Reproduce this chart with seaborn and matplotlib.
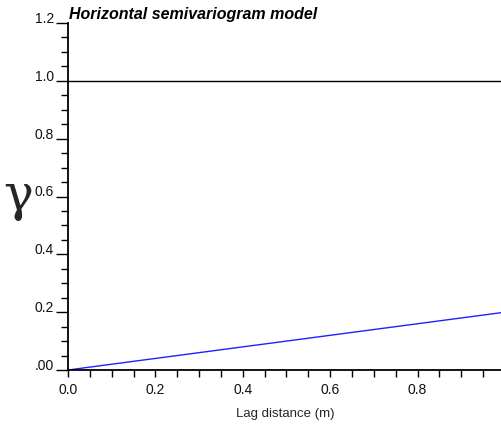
import matplotlib
matplotlib.use("Agg")
import matplotlib.pyplot as plt
import seaborn as sns
import numpy as np
import pandas as pd
from matplotlib.ticker import MultipleLocator, FixedLocator

lag = [0.0, 1.0]
gamma = [0.0, 0.2]
sill_lag = [0.0, 1.0]
sill = [1.0, 1.0]
ytick_vals = [0.0, 0.2, 0.4, 0.6, 0.8, 1.0, 1.2]
ytick_labels = [".00", "0.2", "0.4", "0.6", "0.8", "1.0", "1.2"]
xtick_vals = [0.0, 0.2, 0.4, 0.6, 0.8]
xtick_labels = ["0.0", "0.2", "0.4", "0.6", "0.8"]

sns.set_style("white")
plt.rcParams['font.family'] = ['Liberation Sans', 'DejaVu Sans']

fig = plt.figure(figsize=(5.02, 4.24), dpi=100)
ax = fig.add_axes([68/502, 1-370/424, 1-68/502, (370-23)/424])

model = pd.DataFrame({"lag": lag, "gamma": gamma})
sills = pd.DataFrame({"lag": sill_lag, "gamma": sill})
sns.lineplot(data=sills, x="lag", y="gamma", ax=ax, color="black", linewidth=1.0)
sns.lineplot(data=model, x="lag", y="gamma", ax=ax, color="#2020ff", linewidth=1.0)

ax.set_xlim(0, (502-68)/437)
ax.set_ylim(0, 1.2)
for s in ["top", "right"]:
    ax.spines[s].set_visible(False)
for s in ["left", "bottom"]:
    ax.spines[s].set_color("black")
    ax.spines[s].set_linewidth(1.3)

ax.xaxis.set_major_locator(FixedLocator(xtick_vals))
ax.set_xticklabels(xtick_labels)
ax.yaxis.set_major_locator(FixedLocator(ytick_vals))
ax.set_yticklabels(ytick_labels)
ax.xaxis.set_minor_locator(MultipleLocator(0.05))
ax.yaxis.set_minor_locator(MultipleLocator(0.05))
ax.tick_params(axis="both", which="both", bottom=True, left=True, top=False, right=False)
ax.tick_params(axis="both", which="major", direction="out", width=1, color="black",
               labelsize=10, labelcolor="#111111")
ax.tick_params(axis="both", which="minor", direction="out", length=5, width=1, color="black")
ax.tick_params(axis="y", which="major", length=9, pad=1)
ax.tick_params(axis="x", which="major", length=5, pad=4)
for lbl in ax.get_yticklabels():
    lbl.set_verticalalignment("baseline")

ax.set_xlabel("Lag distance (m)", fontsize=9.5, labelpad=8)
ax.set_ylabel("γ", fontsize=36, rotation=0, fontfamily="DejaVu Serif", labelpad=12, va="center")
ax.text(0.003, 1.003, "Horizontal semivariogram model", transform=ax.transAxes,
        fontsize=11.5, fontweight="bold", fontstyle="italic", ha="left", va="bottom", color="black")

fig.savefig("out.png", dpi=100)
